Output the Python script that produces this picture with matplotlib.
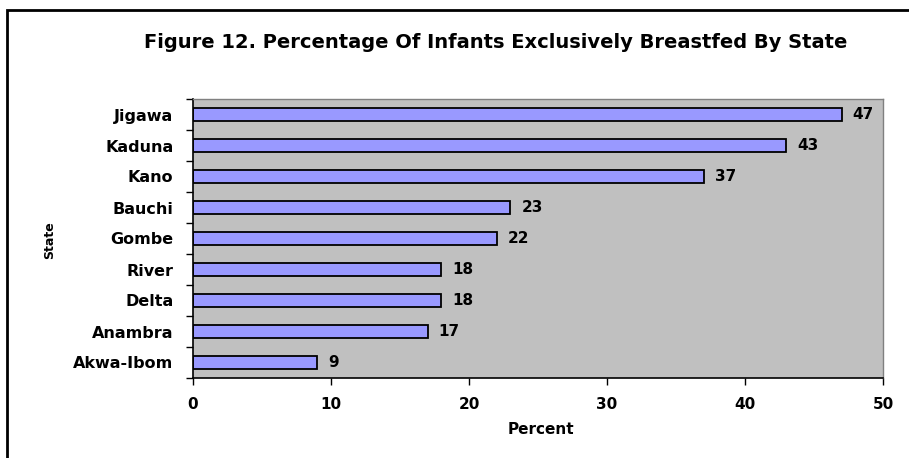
import matplotlib.pyplot as plt
from matplotlib.patches import Rectangle

# Data
states = ['Jigawa', 'Kaduna', 'Kano', 'Bauchi', 'Gombe', 'River', 'Delta', 'Anambra', 'Akwa-Ibom']
percent = [47, 43, 37, 23, 22, 18, 18, 17, 9]
xticks = [0, 10, 20, 30, 40, 50]

plt.rcParams['font.family'] = ['DejaVu Sans']
plt.rcParams['font.weight'] = 'bold'

fig = plt.figure(figsize=(9.09, 4.58), dpi=100)
fig.patch.set_facecolor('white')

# chart frame (only top and left edges fall inside the image)
fig.patches.append(Rectangle((7 / 909, -0.1), 1.2, 1 - 10 / 458 + 0.1, transform=fig.transFigure,
                             fill=False, edgecolor='black', linewidth=2.0))

ax = fig.add_axes([193 / 909, 80 / 458, 690 / 909, 279 / 458])
ax.set_facecolor('#C0C0C0')

pos = list(range(len(states)))
ax.barh(pos, percent, height=0.42, color='#9999FF', edgecolor='black', linewidth=1.3)
for y, v in zip(pos, percent):
    ax.text(v + 0.8, y, str(v), va='center', ha='left', fontsize=11, fontweight='bold')

ax.set_xlim(0, 50)
ax.set_ylim(len(states) - 0.5, -0.5)
ax.set_xticks(xticks)
ax.set_xticklabels([str(t) for t in xticks], fontsize=11, fontweight='bold')
ax.set_yticks(pos)
ax.set_yticklabels(states, fontsize=11.5, fontweight='bold')
ax.set_yticks([p - 0.5 for p in pos] + [len(states) - 0.5], minor=True)
ax.tick_params(axis='y', which='major', length=0, pad=14)
ax.tick_params(axis='y', which='minor', length=5, direction='out', width=1)
ax.tick_params(axis='x', which='major', length=5, direction='out', width=1, pad=9)

for s in ['left', 'bottom']:
    ax.spines[s].set_color('black')
    ax.spines[s].set_linewidth(1.2)
for s in ['top', 'right']:
    ax.spines[s].set_color('#808080')
    ax.spines[s].set_linewidth(1.0)

fig.text(496 / 909, 1 - 43 / 458, 'Figure 12. Percentage Of Infants Exclusively Breastfed By State',
         ha='center', va='center', fontsize=14, fontweight='bold')
fig.text(50 / 909, 1 - 240 / 458, 'State', rotation=90, ha='center', va='center',
         fontsize=9, fontweight='bold')
fig.text(541 / 909, 1 - 429 / 458, 'Percent', ha='center', va='center',
         fontsize=11, fontweight='bold')

fig.savefig('out.png', dpi=100)
